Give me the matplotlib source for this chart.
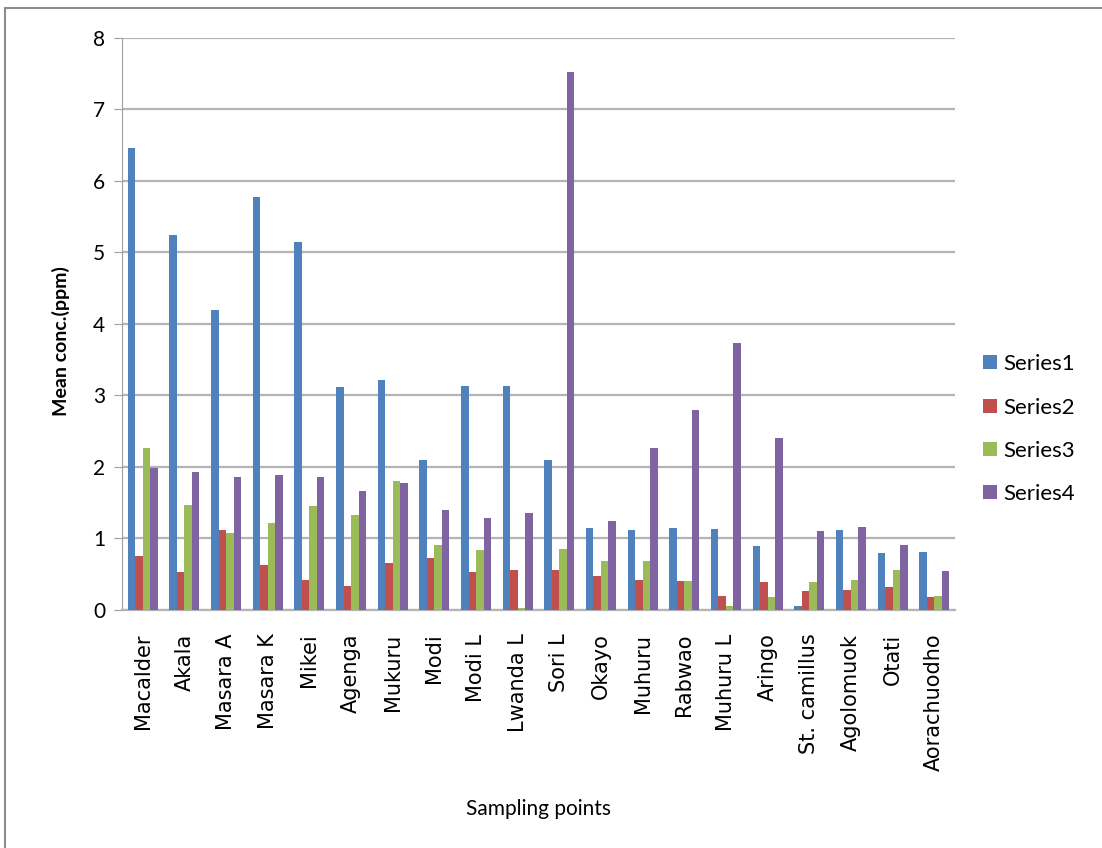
import numpy as np
import matplotlib
matplotlib.use('Agg')
import matplotlib.pyplot as plt
from matplotlib.patches import Rectangle

plt.rcParams.update({
    'font.family': ['Lato', 'DejaVu Sans'],
    'font.size': 13,
})

SITES = ["Macalder", "Akala", "Masara A", "Masara K", "Mikei", "Agenga",
         "Mukuru", "Modi", "Modi L", "Lwanda L", "Sori L", "Okayo", "Muhuru",
         "Rabwao", "Muhuru L", "Aringo", "St. camillus", "Agolomuok", "Otati",
         "Aorachuodho"]

series1 = [6.46, 5.24, 4.19, 5.77, 5.15, 3.12, 3.21, 2.10, 3.13, 3.13,
           2.10, 1.14, 1.12, 1.14, 1.13, 0.90, 0.06, 1.12, 0.79, 0.81]
series2 = [0.75, 0.53, 1.12, 0.63, 0.42, 0.33, 0.65, 0.72, 0.53, 0.56,
           0.56, 0.48, 0.42, 0.40, 0.20, 0.39, 0.27, 0.28, 0.32, 0.18]
series3 = [2.27, 1.47, 1.07, 1.21, 1.45, 1.33, 1.81, 0.91, 0.84, 0.03,
           0.85, 0.68, 0.68, 0.40, 0.06, 0.18, 0.39, 0.42, 0.56, 0.20]
series4 = [1.99, 1.93, 1.86, 1.89, 1.86, 1.67, 1.78, 1.40, 1.29, 1.36,
           7.52, 1.24, 2.27, 2.79, 3.74, 2.41, 1.10, 1.16, 0.91, 0.54]

SERIES = [("Series1", series1, "#4F81BD"),
          ("Series2", series2, "#C0504D"),
          ("Series3", series3, "#9BBB59"),
          ("Series4", series4, "#8064A2")]

fig = plt.figure(figsize=(11.02, 8.48), dpi=100)
ax = fig.add_axes([0.1107, 0.2807, 0.7559, 0.6745])

# chart-area frame (only top/left edges fall inside the image)
fig.patches.append(Rectangle((5 / 1102, -0.1), 1.2, 1 - 8 / 848 + 0.1,
                             transform=fig.transFigure, fill=False,
                             edgecolor='#8c8c8c', linewidth=1.5))

x = np.arange(len(SITES))
width = 0.18
for i, (name, vals, color) in enumerate(SERIES):
    ax.bar(x + (i - 1.5) * width, vals, width, color=color, label=name,
           zorder=3)

ax.set_xlim(-0.5, len(SITES) - 0.5)
ax.set_ylim(0, 8)
ax.set_yticks(range(0, 9))
ax.yaxis.grid(True, color='#b4b4b4', linewidth=1.6, zorder=0)
for s in ['top', 'right']:
    ax.spines[s].set_visible(False)
ax.spines['left'].set_color('#a0a0a0')
ax.spines['bottom'].set_color('#b4b4b4')
ax.spines['bottom'].set_linewidth(1.6)
ax.tick_params(axis='y', length=6, color='#a0a0a0', labelsize=15, pad=6)
ax.tick_params(axis='x', length=0, pad=17)
ax.set_xticks(x)
ax.set_xticklabels(SITES, rotation=90, fontsize=15, family='DejaVu Sans')

ax.set_ylabel("Mean conc.(ppm)", fontsize=14, fontweight='bold')
ax.yaxis.set_label_coords(-0.062, 0.47)
ax.set_xlabel("Sampling points", fontsize=15, labelpad=20)

ax.legend(loc='center left', bbox_to_anchor=(1.01, 0.316), frameon=False,
          fontsize=16, handlelength=0.6, handleheight=0.6, handletextpad=0.3,
          labelspacing=1.05)

fig.savefig("out.png", dpi=100, facecolor='white')
